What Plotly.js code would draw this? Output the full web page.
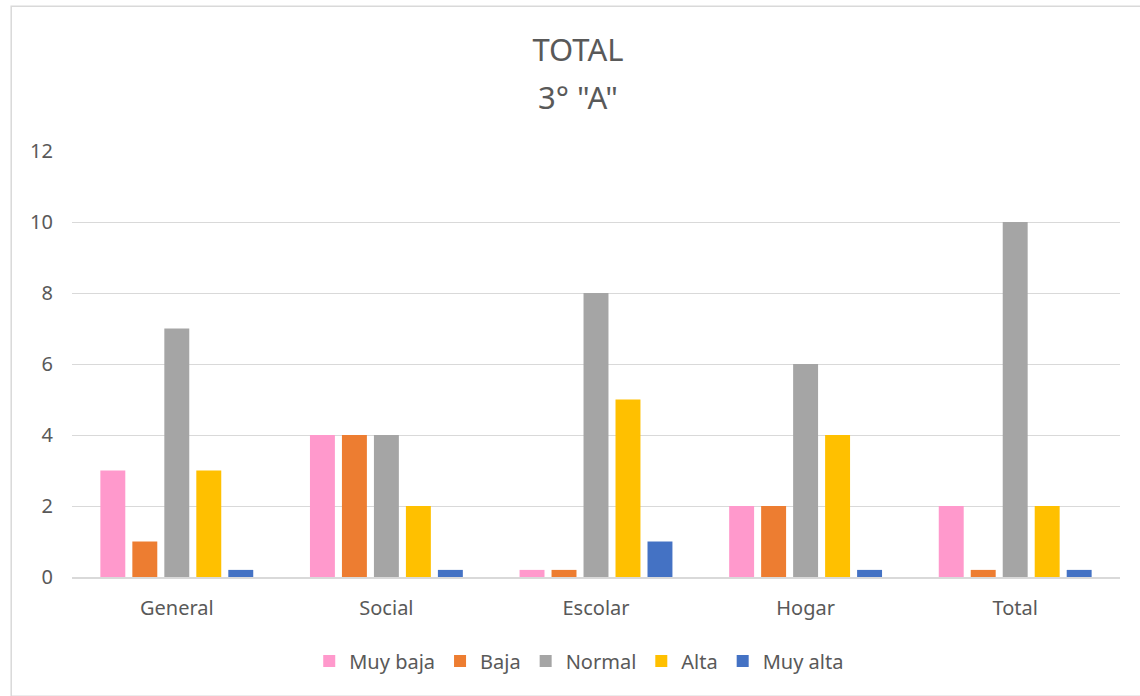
<!DOCTYPE html>
<html><head><meta charset="utf-8">
<script src="https://cdn.plot.ly/plotly-3.0.1.min.js"></script>
<style>html,body{margin:0;padding:0;background:#fff}#chart{width:1140px;height:696px}</style>
</head><body><div id="chart"></div>
<script>
const categories = ["General", "Social", "Escolar", "Hogar", "Total"];
const seriesNames = ["Muy baja", "Baja", "Normal", "Alta", "Muy alta"];
const muyBaja = [3, 4, 0.2, 2, 2];
const baja = [1, 4, 0.2, 2, 0.2];
const normal = [7, 4, 8, 6, 10];
const alta = [3, 2, 5, 4, 2];
const muyAlta = [0.2, 0.2, 1, 0.2, 0.2];
const colors = ["#FF99CC", "#ED7D31", "#A5A5A5", "#FFC000", "#4472C4"];
const values = [muyBaja, baja, normal, alta, muyAlta];
const titleLine1 = "TOTAL";
const titleLine2 = '3° "A"';

const font = "Noto Sans, Open Sans, sans-serif";
const traces = values.map((v, i) => ({
  type: "bar", name: seriesNames[i], x: categories, y: v,
  marker: {color: colors[i]}, hoverinfo: "none"
}));

const layout = {
  width: 1140, height: 696,
  paper_bgcolor: "#fff", plot_bgcolor: "#fff",
  margin: {l: 72, r: 20, t: 151, b: 119},
  title: {text: titleLine1, font: {family: font, size: 31, color: "#595959"}, x: 0.507, xanchor: "center", yref: "container", y: 1 - 50/696, yanchor: "middle"},
  annotations: [{text: titleLine2, xref: "paper", yref: "paper", x: (578 - 72) / 1048, y: 1 + (151 - 97) / 426, xanchor: "center", yanchor: "middle", showarrow: false, font: {family: font, size: 31, color: "#595959"}}],
  barmode: "group", bargap: 0.237, bargroupgap: 0.22,
  xaxis: {showgrid: false, showline: true, linecolor: "#D9D9D9", linewidth: 1.5, ticks: "", tickfont: {family: font, size: 20, color: "#595959"}, ticklabelstandoff: 12, fixedrange: true},
  yaxis: {range: [0, 12], dtick: 2, showgrid: true, gridcolor: "#D9D9D9", gridwidth: 1, zeroline: false, showline: false, ticks: "", tickfont: {family: font, size: 20, color: "#595959"}, ticklabelstandoff: 18, fixedrange: true},
  legend: {orientation: "h", x: 0.484, xanchor: "center", y: -0.197, yanchor: "middle", font: {family: font, size: 20, color: "#595959"}, itemwidth: 30, traceorder: "normal"},
  shapes: [{type: "rect", xref: "paper", yref: "paper", x0: -0.058, x1: 1.03, y0: -0.28, y1: 1.34, line: {color: "#D9D9D9", width: 1.5}, fillcolor: "rgba(0,0,0,0)", layer: "below"}]
};
Plotly.newPlot("chart", traces, layout, {displayModeBar: false, staticPlot: true});
</script></body></html>
